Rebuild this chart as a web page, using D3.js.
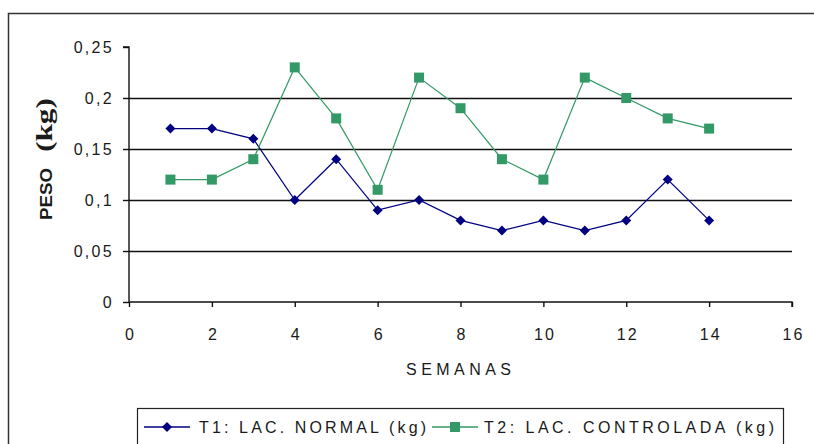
<!DOCTYPE html>
<html>
<head>
<meta charset="utf-8">
<script src="https://cdn.jsdelivr.net/npm/d3@7"></script>
<style>
  html, body { margin: 0; padding: 0; background: #fff; }
  svg { display: block; }
  text { font-family: Arial, "Liberation Sans", sans-serif; fill: #1a1a1a; }
</style>
</head>
<body>
<svg id="chart" width="814" height="444"></svg>
<script>
// Weekly weights (kg) for the two lactation treatments
const semanas = [1, 2, 3, 4, 5, 6, 7, 8, 9, 10, 11, 12, 13, 14];
const t1Normal = [0.17, 0.17, 0.16, 0.10, 0.14, 0.09, 0.10, 0.08, 0.07, 0.08, 0.07, 0.08, 0.12, 0.08];
const t2Controlada = [0.12, 0.12, 0.14, 0.23, 0.18, 0.11, 0.22, 0.19, 0.14, 0.12, 0.22, 0.20, 0.18, 0.17];
const xTicks = [0, 2, 4, 6, 8, 10, 12, 14, 16];
const yTicks = [0, 0.05, 0.10, 0.15, 0.20, 0.25];
const yTickLabels = ["0", "0,05", "0,1", "0,15", "0,2", "0,25"];
const seriesNames = ["T1: LAC. NORMAL (kg)", "T2: LAC. CONTROLADA (kg)"];

const svg = d3.select("#chart");

// Outer chart frame (runs off the right and bottom edges)
svg.append("rect")
  .attr("x", 8.5).attr("y", 13.5)
  .attr("width", 830).attr("height", 460)
  .attr("fill", "none").attr("stroke", "#333").attr("stroke-width", 1.5);

const x = d3.scaleLinear().domain([0, 16]).range([129, 792]);
const y = d3.scaleLinear().domain([0, 0.25]).range([302, 47]);

// Horizontal gridlines
svg.append("g").selectAll("line")
  .data(yTicks.filter(v => v > 0 && v < 0.25))
  .join("line")
  .attr("x1", x(0)).attr("x2", x(16))
  .attr("y1", d => Math.round(y(d)) + 0.5).attr("y2", d => Math.round(y(d)) + 0.5)
  .attr("stroke", "#111").attr("stroke-width", 1.4);

const tickFont = "Arial, 'Liberation Sans', sans-serif";

// Y axis
const yAxis = d3.axisLeft(y).tickValues(yTicks).tickSize(6)
  .tickFormat((d, i) => yTickLabels[i]);
const gy = svg.append("g").attr("transform", `translate(${x(0)},0)`).call(yAxis);
gy.select(".domain").attr("stroke", "#111").attr("stroke-width", 1.4).attr("d", `M-6,${y(0.25)}H0V${y(0)}`);
gy.selectAll(".tick line").attr("stroke", "#111").attr("stroke-width", 1.4);
gy.selectAll(".tick text")
  .attr("x", -15).attr("dy", "0.36em")
  .attr("font-size", 16).attr("fill", "#1a1a1a")
  .style("font-family", tickFont).style("letter-spacing", "2.3px");

// X axis
const xAxis = d3.axisBottom(x).tickValues(xTicks).tickSize(5);
const gx = svg.append("g").attr("transform", `translate(0,${y(0)})`).call(xAxis);
gx.select(".domain").attr("stroke", "#111").attr("stroke-width", 1.4).attr("d", `M${x(0)},0H${x(16)}V5`);
gx.selectAll(".tick line").attr("stroke", "#111").attr("stroke-width", 1.4);
gx.selectAll(".tick text")
  .attr("y", 38).attr("dy", 0).attr("dx", 1)
  .attr("font-size", 16).attr("fill", "#1a1a1a")
  .style("font-family", tickFont).style("letter-spacing", "2px");

// Axis titles
svg.append("text")
  .attr("x", 406).attr("y", 375)
  .attr("font-size", 16)
  .attr("textLength", 105).attr("lengthAdjust", "spacing")
  .text("SEMANAS");

svg.append("text")
  .attr("transform", "translate(52,220) rotate(-90)")
  .attr("font-size", 16).attr("font-weight", "bold")
  .attr("textLength", 52).attr("lengthAdjust", "spacingAndGlyphs")
  .text("PESO");
svg.append("text")
  .attr("transform", "translate(52,152) rotate(-90)")
  .attr("font-size", 23).attr("font-weight", "bold")
  .style("font-family", "'Liberation Serif', 'DejaVu Serif', serif")
  .attr("textLength", 54).attr("lengthAdjust", "spacingAndGlyphs")
  .text("(kg)");

// Series lines and markers
const line = d3.line().x((d, i) => x(semanas[i])).y(d => y(d));
const navy = "#000080";
const green = "#339966";

svg.append("path").datum(t1Normal)
  .attr("d", line).attr("fill", "none").attr("stroke", navy).attr("stroke-width", 1.2);
svg.append("path").datum(t2Controlada)
  .attr("d", line).attr("fill", "none").attr("stroke", green).attr("stroke-width", 1.2);

const diamond = d3.symbol().type(d3.symbolDiamond2).size(64);
svg.append("g").selectAll("path")
  .data(t1Normal).join("path")
  .attr("transform", (d, i) => `translate(${x(semanas[i])},${y(d)})`)
  .attr("d", diamond).attr("fill", navy);

svg.append("g").selectAll("rect")
  .data(t2Controlada).join("rect")
  .attr("x", (d, i) => x(semanas[i]) - 5).attr("y", d => y(d) - 5)
  .attr("width", 10).attr("height", 10).attr("fill", green);

// Legend
const legend = svg.append("g");
legend.append("rect")
  .attr("x", 137.5).attr("y", 408.5).attr("width", 646).attr("height", 60)
  .attr("fill", "#fff").attr("stroke", "#222").attr("stroke-width", 1.2);

const legendItems = [
  { name: seriesNames[0], color: navy, kind: "diamond", x0: 144, tx: 199, len: 227 },
  { name: seriesNames[1], color: green, kind: "square", x0: 432, tx: 484, len: 290 }
];
legendItems.forEach(it => {
  const cy = 427;
  legend.append("line")
    .attr("x1", it.x0).attr("x2", it.x0 + 46).attr("y1", cy).attr("y2", cy)
    .attr("stroke", it.color).attr("stroke-width", 1.5);
  if (it.kind === "diamond") {
    legend.append("path").attr("d", diamond)
      .attr("transform", `translate(${it.x0 + 23},${cy})`).attr("fill", it.color);
  } else {
    legend.append("rect").attr("x", it.x0 + 18).attr("y", cy - 5)
      .attr("width", 10).attr("height", 10).attr("fill", it.color);
  }
  legend.append("text")
    .attr("x", it.tx).attr("y", cy + 5.5)
    .attr("font-size", 16)
    .attr("textLength", it.len).attr("lengthAdjust", "spacing")
    .text(it.name);
});
</script>
</body>
</html>
